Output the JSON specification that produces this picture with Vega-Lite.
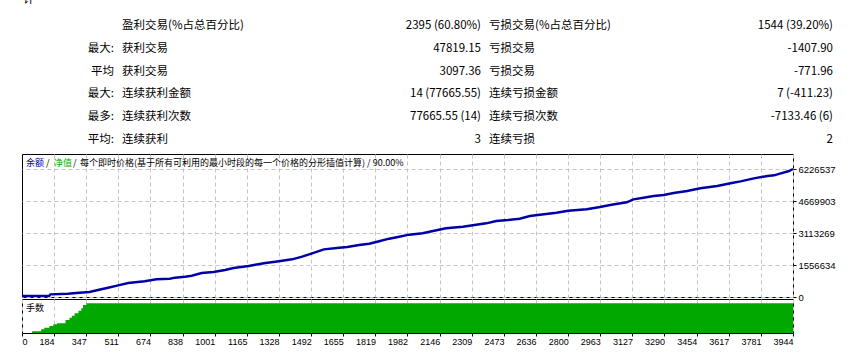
{
  "$schema": "https://vega.github.io/schema/vega-lite/v6.json",
  "padding": {"left": 21, "top": 0, "right": 0, "bottom": 0},
  "autosize": {"type": "pad"},
  "background": "white",
  "spacing": 2,
  "bounds": "flush",
  "config": {
    "view": {"stroke": "#000000", "strokeWidth": 1},
    "font": "Noto Sans CJK SC",
    "axis": {"labelFont": "Liberation Sans", "labelColor": "#000000", "tickColor": "#000000", "gridColor": "#c4c4c4", "gridDash": [4, 3], "gridWidth": 1, "domain": false}
  },
  "datasets": {
    "stats": [
      {"row": 1, "prefix": "", "label1": "盈利交易(%占总百分比)", "value1": "2395 (60.80%)", "label2": "亏损交易(%占总百分比)", "value2": "1544 (39.20%)"},
      {"row": 2, "prefix": "最大:", "label1": "获利交易", "value1": "47819.15", "label2": "亏损交易", "value2": "-1407.90"},
      {"row": 3, "prefix": "平均", "label1": "获利交易", "value1": "3097.36", "label2": "亏损交易", "value2": "-771.96"},
      {"row": 4, "prefix": "最大:", "label1": "连续获利金额", "value1": "14 (77665.55)", "label2": "连续亏损金额", "value2": "7 (-411.23)"},
      {"row": 5, "prefix": "最多:", "label1": "连续获利次数", "value1": "77665.55 (14)", "label2": "连续亏损次数", "value2": "-7133.46 (6)"},
      {"row": 6, "prefix": "平均:", "label1": "连续获利", "value1": "3", "label2": "连续亏损", "value2": "2"}
    ],
    "balance": [
      {"trade": 21, "balance": 50000}, {"trade": 160, "balance": 63000}, {"trade": 165, "balance": 131000},
      {"trade": 254, "balance": 161000}, {"trade": 313, "balance": 209000}, {"trade": 364, "balance": 243000},
      {"trade": 407, "balance": 341000}, {"trade": 458, "balance": 452000}, {"trade": 510, "balance": 569000},
      {"trade": 561, "balance": 681000}, {"trade": 645, "balance": 764000}, {"trade": 705, "balance": 861000},
      {"trade": 773, "balance": 890000}, {"trade": 799, "balance": 939000}, {"trade": 850, "balance": 988000},
      {"trade": 884, "balance": 1036000}, {"trade": 935, "balance": 1167000}, {"trade": 995, "balance": 1216000},
      {"trade": 1054, "balance": 1313000}, {"trade": 1097, "balance": 1411000}, {"trade": 1174, "balance": 1508000},
      {"trade": 1208, "balance": 1571000}, {"trade": 1259, "balance": 1654000}, {"trade": 1310, "balance": 1717000},
      {"trade": 1395, "balance": 1834000}, {"trade": 1446, "balance": 1960000}, {"trade": 1497, "balance": 2126000},
      {"trade": 1557, "balance": 2320000}, {"trade": 1634, "balance": 2398000}, {"trade": 1676, "balance": 2432000},
      {"trade": 1736, "balance": 2530000}, {"trade": 1787, "balance": 2593000}, {"trade": 1838, "balance": 2710000},
      {"trade": 1889, "balance": 2836000}, {"trade": 1940, "balance": 2933000}, {"trade": 1991, "balance": 3031000},
      {"trade": 2059, "balance": 3099000}, {"trade": 2136, "balance": 3259000}, {"trade": 2178, "balance": 3342000},
      {"trade": 2264, "balance": 3420000}, {"trade": 2323, "balance": 3502000}, {"trade": 2383, "balance": 3585000},
      {"trade": 2434, "balance": 3697000}, {"trade": 2494, "balance": 3746000}, {"trade": 2553, "balance": 3809000},
      {"trade": 2605, "balance": 3940000}, {"trade": 2656, "balance": 4003000}, {"trade": 2740, "balance": 4101000},
      {"trade": 2800, "balance": 4198000}, {"trade": 2894, "balance": 4266000}, {"trade": 2962, "balance": 4378000},
      {"trade": 3013, "balance": 4475000}, {"trade": 3098, "balance": 4607000}, {"trade": 3132, "balance": 4753000},
      {"trade": 3183, "balance": 4830000}, {"trade": 3235, "balance": 4913000}, {"trade": 3286, "balance": 4962000},
      {"trade": 3337, "balance": 5059000}, {"trade": 3405, "balance": 5156000}, {"trade": 3473, "balance": 5288000},
      {"trade": 3558, "balance": 5400000}, {"trade": 3626, "balance": 5531000}, {"trade": 3677, "balance": 5628000},
      {"trade": 3745, "balance": 5774000}, {"trade": 3814, "balance": 5886000}, {"trade": 3848, "balance": 5920000},
      {"trade": 3882, "balance": 6017000}, {"trade": 3924, "balance": 6128000}, {"trade": 3944, "balance": 6226537}
    ],
    "lots": [
      {"trade": 72, "lots": 0.17}, {"trade": 118, "lots": 0.37}, {"trade": 134, "lots": 0.54},
      {"trade": 160, "lots": 0.71}, {"trade": 180, "lots": 0.88}, {"trade": 199, "lots": 0.98},
      {"trade": 242, "lots": 1.31}, {"trade": 262, "lots": 1.55}, {"trade": 274, "lots": 1.75},
      {"trade": 288, "lots": 1.99}, {"trade": 308, "lots": 2.25}, {"trade": 322, "lots": 2.5},
      {"trade": 331, "lots": 2.83}, {"trade": 348, "lots": 3.0}, {"trade": 3944, "lots": 3.0}
    ]
  },
  "vconcat": [
    {
      "width": 811,
      "height": 152,
      "view": {"stroke": null},
      "data": {"name": "stats"},
      "encoding": {
        "y": {"field": "row", "type": "quantitative", "scale": {"domain": [-0.14, 6.53], "reverse": true, "nice": false, "zero": false}, "axis": null}
      },
      "layer": [
        {
          "data": {"values": [{"row": 0, "t": "计"}]},
          "mark": {"type": "text", "align": "left", "baseline": "middle", "fontSize": 11.5, "color": "#000000", "dx": 1, "dy": -3, "clip": true},
          "encoding": {
            "x": {"datum": 0, "type": "quantitative", "scale": {"domain": [0, 1, 2, 3, 4, 5], "range": [0, 92, 100, 459, 467, 811], "nice": false, "zero": false}, "axis": null},
            "text": {"field": "t"}
          }
        },
        {
          "mark": {"type": "text", "align": "right", "baseline": "middle", "fontSize": 11.5, "color": "#000000"},
          "encoding": {"x": {"datum": 1, "type": "quantitative"}, "text": {"field": "prefix"}}
        },
        {
          "mark": {"type": "text", "align": "left", "baseline": "middle", "fontSize": 11.5, "color": "#000000"},
          "encoding": {"x": {"datum": 2, "type": "quantitative"}, "text": {"field": "label1"}}
        },
        {
          "mark": {"type": "text", "align": "right", "baseline": "middle", "fontSize": 11.5, "color": "#000000"},
          "encoding": {"x": {"datum": 3, "type": "quantitative"}, "text": {"field": "value1"}}
        },
        {
          "mark": {"type": "text", "align": "left", "baseline": "middle", "fontSize": 11.5, "color": "#000000"},
          "encoding": {"x": {"datum": 4, "type": "quantitative"}, "text": {"field": "label2"}}
        },
        {
          "mark": {"type": "text", "align": "right", "baseline": "middle", "fontSize": 11.5, "color": "#000000"},
          "encoding": {"x": {"datum": 5, "type": "quantitative"}, "text": {"field": "value2"}}
        }
      ]
    },
    {
      "width": 771,
      "height": 143,
      "layer": [
        {
          "data": {"name": "balance"},
          "mark": {"type": "line", "color": "#0000a8", "strokeWidth": 2.4, "clip": true},
          "encoding": {
            "x": {"field": "trade", "type": "quantitative", "scale": {"domain": [20.5, 3944], "nice": false, "zero": false},
              "axis": {"orient": "bottom", "title": null, "tickCount": 100, "values": [184, 347, 511, 674, 838, 1001, 1165, 1328, 1492, 1655, 1819, 1982, 2146, 2309, 2473, 2636, 2800, 2963, 3127, 3290, 3454, 3617, 3781, 3944], "labels": false, "ticks": false, "grid": true}},
            "y": {"field": "balance", "type": "quantitative", "scale": {"domain": [0, 6956212], "nice": false, "zero": false},
              "axis": {"orient": "right", "title": null, "tickCount": 20, "values": [0, 1556634, 3113269, 4669903, 6226537], "format": "d", "tickSize": 3, "labelPadding": 2, "labelFontSize": 9.5, "grid": true, "labelOverlap": false, "labelFlush": false, "labelBaseline": "middle"}}
          }
        },
        {
          "data": {"values": [{}]},
          "mark": {"type": "text", "text": "余额", "align": "left", "baseline": "middle", "fontSize": 9, "color": "#0000a8", "dx": 4, "dy": 9},
          "encoding": {"x": {"datum": 20.5, "type": "quantitative"}, "y": {"datum": 6956212, "type": "quantitative"}}
        },
        {
          "data": {"values": [{}]},
          "mark": {"type": "text", "text": "/", "align": "left", "baseline": "middle", "fontSize": 9, "color": "#000000", "dx": 24, "dy": 9},
          "encoding": {"x": {"datum": 20.5, "type": "quantitative"}, "y": {"datum": 6956212, "type": "quantitative"}}
        },
        {
          "data": {"values": [{}]},
          "mark": {"type": "text", "text": "净值", "align": "left", "baseline": "middle", "fontSize": 9, "color": "#00a800", "dx": 32, "dy": 9},
          "encoding": {"x": {"datum": 20.5, "type": "quantitative"}, "y": {"datum": 6956212, "type": "quantitative"}}
        },
        {
          "data": {"values": [{}]},
          "mark": {"type": "text", "text": "/", "align": "left", "baseline": "middle", "fontSize": 9, "color": "#000000", "dx": 51, "dy": 9},
          "encoding": {"x": {"datum": 20.5, "type": "quantitative"}, "y": {"datum": 6956212, "type": "quantitative"}}
        },
        {
          "data": {"values": [{}]},
          "mark": {"type": "text", "text": "每个即时价格(基于所有可利用的最小时段的每一个价格的分形插值计算) / 90.00%", "align": "left", "baseline": "middle", "fontSize": 9, "color": "#000000", "dx": 58, "dy": 9},
          "encoding": {"x": {"datum": 20.5, "type": "quantitative"}, "y": {"datum": 6956212, "type": "quantitative"}}
        }
      ]
    },
    {
      "width": 771,
      "height": 34,
      "layer": [
        {
          "data": {"name": "lots"},
          "mark": {"type": "area", "color": "#00a800", "interpolate": "step-after", "opacity": 1, "clip": true},
          "encoding": {
            "x": {"field": "trade", "type": "quantitative", "scale": {"domain": [20.5, 3944], "nice": false, "zero": false},
              "axis": {"orient": "bottom", "title": null, "tickCount": 100, "values": [20.5, 184, 347, 511, 674, 838, 1001, 1165, 1328, 1492, 1655, 1819, 1982, 2146, 2309, 2473, 2636, 2800, 2963, 3127, 3290, 3454, 3617, 3781, 3944],
                "labelExpr": "datum.value < 100 ? '0' : format(datum.value, 'd')",
                "labelAlign": {"condition": {"test": "datum.value < 100", "value": "left"}, "value": "right"},
                "labelFlush": false, "labelOverlap": false, "labelFontSize": 9, "tickSize": 3, "labelPadding": 1, "grid": true}},
            "y": {"field": "lots", "type": "quantitative", "scale": {"domain": [0, 3.43], "nice": false, "zero": false}, "axis": null}
          }
        },
        {
          "data": {"values": [{}]},
          "mark": {"type": "text", "text": "手数", "align": "left", "baseline": "middle", "fontSize": 9, "color": "#000000", "dx": 4, "dy": 9},
          "encoding": {"x": {"datum": 20.5, "type": "quantitative"}, "y": {"datum": 3.43, "type": "quantitative"}}
        }
      ]
    }
  ]
}
